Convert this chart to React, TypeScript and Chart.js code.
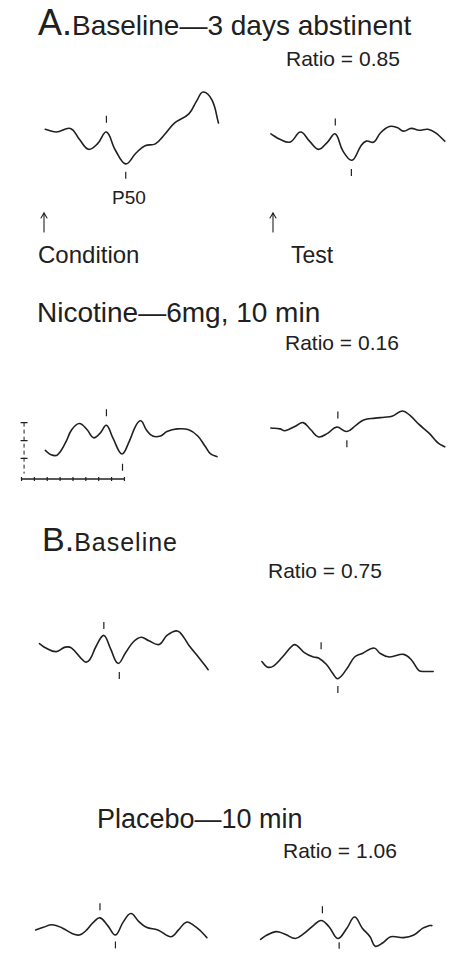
import React, { useEffect, useRef } from "react";
import { Chart, registerables } from "chart.js";

Chart.register(...registerables);

type Pt = [number, number]; // [time in ms after click, amplitude in µV]

// ---------- DATA (ms, µV) ----------
// A. Baseline — 3 days abstinent
const A_BASELINE_CONDITION: Pt[] = [
  [-1.5, 0.1], [7, -0.2], [18, 0.2], [25, -1.0], [32, -2.1], [39, -1.5], [46, -0.2],
  [53, -2.2], [61, -3.7], [69, -2.5], [76, -1.7], [84, -1.5], [91, -0.5], [99, 0.8],
  [110, 1.8], [116, 3.2], [121, 4.2], [128, 3.3], [133, 0.8],
];
const A_BASELINE_TEST: Pt[] = [
  [-4, -0.4], [3, -1.0], [11, -1.3], [19, -0.2], [26, -1.2], [33, -2.1], [40, -1.3],
  [46, -0.4], [52, -2.3], [59, -3.3], [66, -1.7], [70, -1.2], [76, -1.3], [81, -0.3],
  [88, 0.4], [94, 0.3], [99, -0.1], [105, 0.2], [111, 0.0], [118, 0.1], [124, -0.3], [131, -1.2],
];
// Nicotine — 6mg, 10 min
const A_NICOTINE_CONDITION: Pt[] = [
  [-1.5, -1.1], [3, -1.6], [8, -1.6], [14, -0.3], [19, 1.2], [25, 1.9], [31, 1.2],
  [36, 0.3], [41, 0.8], [46, 1.7], [51, 0.3], [58, -1.5], [64, 0.0], [69, 1.7],
  [73, 2.2], [77, 1.2], [82, 0.5], [88, 0.5], [93, 1.0], [101, 1.3], [110, 1.2],
  [117, 0.5], [123, -0.7], [127, -1.5], [132, -1.8],
];
const A_NICOTINE_TEST: Pt[] = [
  [-4, 1.4], [3, 1.3], [7, 1.1], [15, 1.6], [21, 2.0], [27, 1.2], [33, 0.4], [40, 0.8],
  [47, 1.5], [55, 1.0], [62, 1.7], [68, 2.3], [77, 2.5], [84, 2.6], [90, 2.7], [98, 3.3],
  [104, 2.8], [111, 1.8], [119, 0.8], [126, -0.3], [131, -0.7],
];
// B. Baseline
const B_BASELINE_CONDITION: Pt[] = [
  [-6, 0.3], [-1, -0.2], [7, -0.6], [14, -0.1], [19, -0.2], [29, -1.7], [33, -1.5],
  [38, 0.0], [44, 1.2], [49, -0.2], [55, -1.9], [61, -0.7], [67, 0.5], [73, 1.0],
  [79, 0.6], [87, 0.2], [93, 1.2], [101, 1.7], [106, 1.0], [110, 0.1], [118, -1.3], [125, -2.6],
];
const B_BASELINE_TEST: Pt[] = [
  [-11, -1.7], [-7, -2.3], [-2, -2.2], [5, -1.2], [13, 0.1], [16, 0.1], [22, -0.7],
  [29, -1.2], [33, -1.3], [39, -2.0], [44, -3.0], [48, -3.6], [55, -2.5], [61, -1.2],
  [67, -0.8], [76, -0.2], [81, -0.8], [88, -1.2], [99, -0.9], [105, -1.5], [111, -2.7],
  [116, -2.8], [122, -2.8],
];
// Placebo — 10 min
const B_PLACEBO_CONDITION: Pt[] = [
  [-9, -0.2], [-3, 0.1], [4, 0.4], [12, 0.0], [19, -0.6], [25, -0.8], [30, -0.3],
  [36, 0.7], [41, 1.2], [47, 0.3], [53, -0.8], [59, 0.7], [65, 1.7], [71, 0.8],
  [77, 0.1], [86, -0.2], [96, -1.0], [102, -0.2], [108, 0.7], [114, 0.3], [119, -0.3], [124, -1.1],
];
const B_PLACEBO_TEST: Pt[] = [
  [-12, -1.3], [-7, -0.8], [0, -0.4], [7, -0.7], [15, -1.2], [21, -0.7], [29, 0.3],
  [35, 0.9], [41, 0.2], [48, -1.2], [55, 0.0], [61, 1.3], [67, 0.0], [73, -1.0],
  [77, -2.1], [83, -1.7], [89, -1.0], [99, -1.1], [107, -0.8], [114, 0.0], [119, 0.3], [121, 0.3],
];

// Peak markers (latency ms, marker level µV): preceding negativity above, P50 below
const A_BASELINE_CONDITION_MARKS: Pt[] = [[46, 1.2], [61, -4.95]];
const A_BASELINE_TEST_MARKS: Pt[] = [[46, 0.9], [58.5, -4.65]];
const A_NICOTINE_CONDITION_MARKS: Pt[] = [[46, 3.1], [58.5, -3.0]];
const A_NICOTINE_TEST_MARKS: Pt[] = [[48, 2.85], [55, -0.35]];
const B_BASELINE_CONDITION_MARKS: Pt[] = [[44, 2.3], [56, -3.25]];
const B_BASELINE_TEST_MARKS: Pt[] = [[35, 0.05], [48, -4.8]];
const B_PLACEBO_CONDITION_MARKS: Pt[] = [[41, 2.5], [53, -1.95]];
const B_PLACEBO_TEST_MARKS: Pt[] = [[36, 2.15], [49, -2.05]];

// Calibration bars (10 ms divisions, 2 µV divisions)
const SCALE_MS = [-20, -10, 0, 10, 20, 30, 40, 50, 60];
const SCALE_UV = [2, 0, -2];
const SCALE_UV_SPAN: number[] = [2, -3.7];

// Ratios (test / condition amplitude)
const RATIOS = ["0.85", "0.16", "0.75", "1.06"];
const TITLES = ["Baseline—3 days abstinent", "Nicotine—6mg, 10 min", "Baseline", "Placebo—10 min"];

// ---------- LAYOUT ----------
const INK = "#202020";
const FONT = '"Liberation Sans", Arial, Helvetica, sans-serif';
const PX_PER_MS = 1.35;
const PX_PER_UV = 10;
const COLS = [
  { left: 0, width: 226, stimX: 44 },
  { left: 226, width: 226, stimX: 273 },
];
const ROWS = [
  { top: 75, height: 115, baseY: 130 },
  { top: 395, height: 100, baseY: 440 },
  { top: 605, height: 105, baseY: 645 },
  { top: 880, height: 74, baseY: 930 },
];

const toXY = (pts: Pt[]) => pts.map(([x, y]) => ({ x, y }));

const waveDataset = (pts: Pt[]) => ({
  data: toXY(pts),
  borderColor: INK,
  borderWidth: 1.6,
  pointRadius: 0,
  fill: false,
  tension: 0.4,
  borderCapStyle: "round" as const,
  borderJoinStyle: "round" as const,
});

const markDataset = (pts: Pt[]) => ({
  data: toXY(pts),
  showLine: false,
  pointStyle: "line" as const,
  pointRotation: 90,
  pointRadius: 3.5,
  pointBorderWidth: 1.2,
  pointBorderColor: INK,
  borderColor: INK,
});

function scaleBarDatasets() {
  const barLevel = -4.3;
  const vertT = -18;
  return [
    {
      data: SCALE_MS.map((t) => ({ x: t, y: barLevel })),
      borderColor: INK,
      borderWidth: 1.6,
      pointStyle: "line" as const,
      pointRotation: 90,
      pointRadius: 2,
      pointBorderWidth: 1.2,
      pointBorderColor: INK,
      tension: 0,
    },
    {
      data: SCALE_UV_SPAN.map((v) => ({ x: vertT, y: v })),
      borderColor: INK,
      borderWidth: 1,
      borderDash: [4, 3],
      pointRadius: 0,
      tension: 0,
    },
    {
      data: SCALE_UV.map((v) => ({ x: vertT, y: v })),
      showLine: false,
      pointStyle: "line" as const,
      pointRadius: 3.5,
      pointBorderWidth: 1.3,
      pointBorderColor: INK,
      borderColor: INK,
    },
  ];
}

type PanelProps = { row: number; col: number; wave: Pt[]; marks: Pt[]; scaleBar?: boolean };

function Panel({ row, col, wave, marks, scaleBar }: PanelProps) {
  const ref = useRef<HTMLCanvasElement | null>(null);
  const r = ROWS[row];
  const c = COLS[col];
  useEffect(() => {
    if (!ref.current) return;
    const xMin = (c.left - c.stimX) / PX_PER_MS;
    const xMax = (c.left + c.width - c.stimX) / PX_PER_MS;
    const yMax = (r.baseY - r.top) / PX_PER_UV;
    const yMin = (r.baseY - r.top - r.height) / PX_PER_UV;
    const datasets: any[] = [waveDataset(wave), markDataset(marks)];
    if (scaleBar) datasets.push(...scaleBarDatasets());
    const chart = new Chart(ref.current, {
      type: "line",
      data: { datasets },
      options: {
        animation: false,
        responsive: false,
        devicePixelRatio: 1,
        layout: { padding: 0 },
        events: [],
        plugins: { legend: { display: false }, tooltip: { enabled: false }, title: { display: false } },
        scales: {
          x: { type: "linear", min: xMin, max: xMax, display: false },
          y: { type: "linear", min: yMin, max: yMax, display: false },
        },
      },
    });
    return () => chart.destroy();
  }, []);
  return (
    <canvas
      ref={ref}
      width={c.width}
      height={r.height}
      style={{ position: "absolute", left: c.left, top: r.top, width: c.width, height: r.height }}
    />
  );
}

type LabelProps = { x: number; base: number; size: number; children: React.ReactNode };
function Label({ x, base, size, children }: LabelProps) {
  return (
    <div
      style={{
        position: "absolute",
        left: x,
        top: base - 0.8465 * size,
        fontSize: size,
        lineHeight: 1,
        fontFamily: FONT,
        color: INK,
        whiteSpace: "nowrap",
      }}
    >
      {children}
    </div>
  );
}

// Stimulus-onset arrow (click time)
function Arrow({ x, top, bottom }: { x: number; top: number; bottom: number }) {
  return (
    <svg
      width={12}
      height={bottom - top + 2}
      style={{ position: "absolute", left: x - 6, top: top - 1 }}
    >
      <g stroke={INK} strokeWidth={1.1} fill="none" strokeLinecap="round">
        <line x1={6} y1={1} x2={6} y2={bottom - top + 1} />
        <polyline points={`3,6 6,1 9,6`} />
      </g>
    </svg>
  );
}

export default function App() {
  return (
    <div
      style={{
        position: "absolute",
        left: 0,
        top: 0,
        width: 452,
        height: 954,
        overflow: "hidden",
        background: "#fff",
      }}
    >
      <Label x={38} base={35} size={36}>
        A.<span style={{ fontSize: 28 }}>{TITLES[0]}</span>
      </Label>
      <Label x={286} base={66} size={21}>Ratio = {RATIOS[0]}</Label>
      <Label x={112} base={204} size={19}>P50</Label>
      <Arrow x={44} top={213} bottom={232} />
      <Arrow x={273} top={213} bottom={232} />
      <Label x={38} base={263} size={24}>Condition</Label>
      <Label x={291} base={263} size={23}>Test</Label>

      <Label x={37} base={323} size={28}>{TITLES[1]}</Label>
      <Label x={285} base={350} size={21}>Ratio = {RATIOS[1]}</Label>

      <Label x={42} base={551} size={34}>
        B.<span style={{ fontSize: 25, letterSpacing: 1 }}>{TITLES[2]}</span>
      </Label>
      <Label x={268} base={578} size={21}>Ratio = {RATIOS[2]}</Label>

      <Label x={97} base={829} size={27}>{TITLES[3]}</Label>
      <Label x={283} base={858} size={21}>Ratio = {RATIOS[3]}</Label>

      <Panel row={0} col={0} wave={A_BASELINE_CONDITION} marks={A_BASELINE_CONDITION_MARKS} />
      <Panel row={0} col={1} wave={A_BASELINE_TEST} marks={A_BASELINE_TEST_MARKS} />
      <Panel row={1} col={0} wave={A_NICOTINE_CONDITION} marks={A_NICOTINE_CONDITION_MARKS} scaleBar />
      <Panel row={1} col={1} wave={A_NICOTINE_TEST} marks={A_NICOTINE_TEST_MARKS} />
      <Panel row={2} col={0} wave={B_BASELINE_CONDITION} marks={B_BASELINE_CONDITION_MARKS} />
      <Panel row={2} col={1} wave={B_BASELINE_TEST} marks={B_BASELINE_TEST_MARKS} />
      <Panel row={3} col={0} wave={B_PLACEBO_CONDITION} marks={B_PLACEBO_CONDITION_MARKS} />
      <Panel row={3} col={1} wave={B_PLACEBO_TEST} marks={B_PLACEBO_TEST_MARKS} />
    </div>
  );
}
